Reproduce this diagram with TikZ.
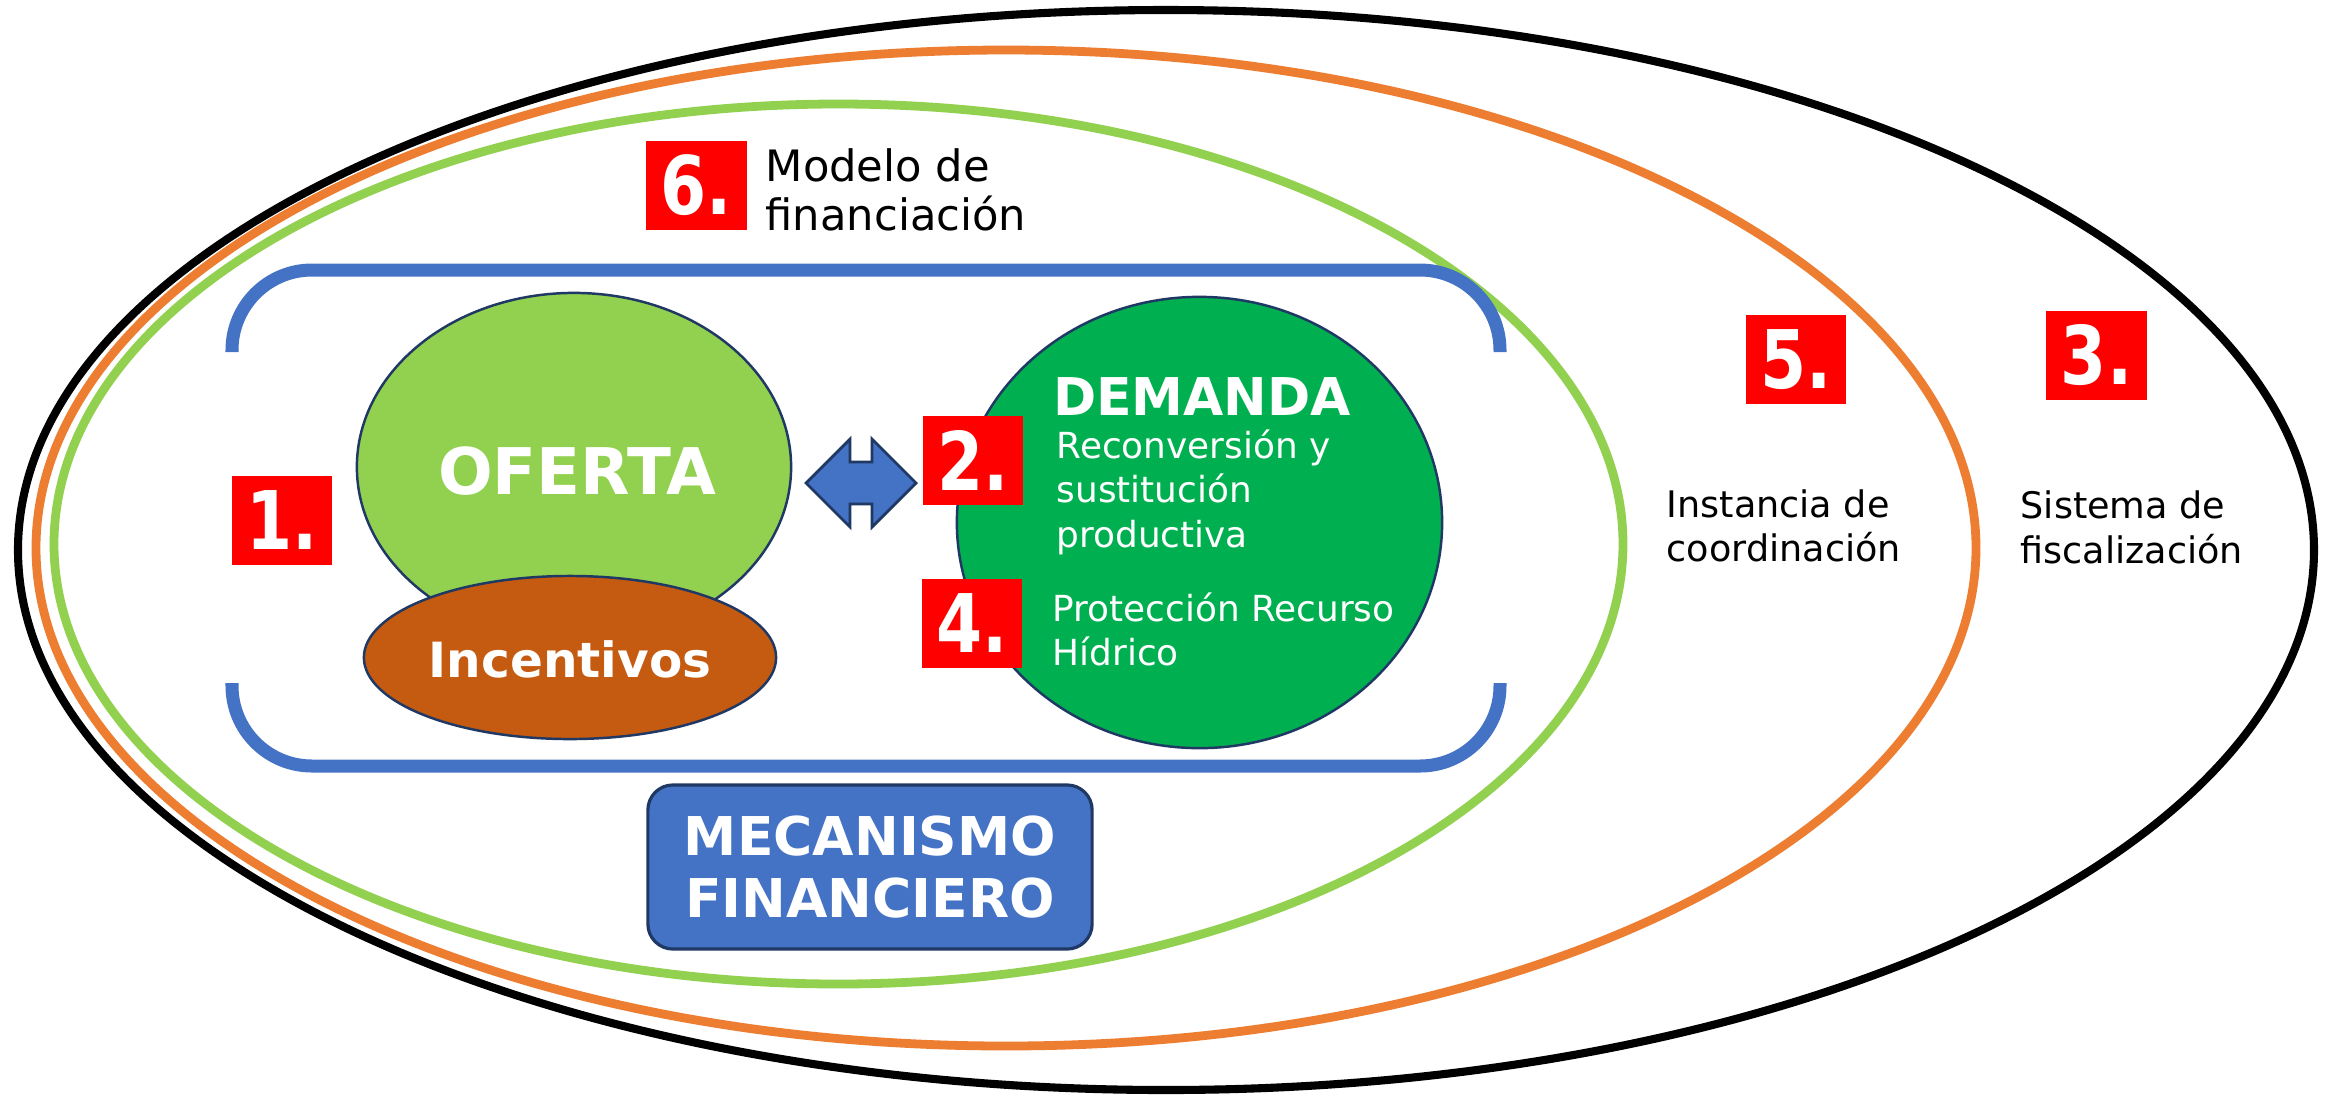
\documentclass[tikz,border=0pt]{standalone}
\usepackage{fontspec}
\usepackage{graphicx}
\setmainfont{DejaVu Sans}
\usetikzlibrary{shapes.geometric}
\definecolor{ofertaG}{HTML}{92D050}
\definecolor{incO}{HTML}{C55A11}
\definecolor{demG}{HTML}{00B050}
\definecolor{navy}{HTML}{1F3864}
\definecolor{bblue}{HTML}{4472C4}
\definecolor{lorange}{HTML}{ED7D31}
\definecolor{lgreen}{HTML}{92D050}
\definecolor{nred}{HTML}{FF0000}
\begin{document}
\begin{tikzpicture}[x=0.01cm,y=-0.01cm,
  numbox/.style={fill=nred, minimum width=1cm, minimum height=0.89cm, inner sep=0pt,
    text=white, font=\bfseries\fontsize{23}{26}\selectfont},
  shapeell/.style={ellipse, draw=navy, line width=0.7pt, inner sep=0pt},
  txt/.style={inner sep=0pt, anchor=base west},
  bodytxt/.style={txt, font=\fontsize{10.4}{12}\selectfont},
  whitetxt/.style={txt, text=white, font=\fontsize{10.2}{12}\selectfont},
  bigtxt/.style={inner sep=0pt, anchor=base, text=white},
  bracket/.style={draw=bblue, line width=3.7pt, rounded corners=0.8cm}
]
\useasboundingbox (0,0) rectangle (2335,1096);
\fill[white] (0,0) rectangle (2335,1096);

% outer ellipses
\draw[black, line width=2.3pt] (1166,550) ellipse [x radius=1148, y radius=540];
\draw[lorange, line width=2.5pt] (1006,548) ellipse [x radius=970, y radius=498];
\draw[lgreen, line width=2.5pt] (838.5,544) ellipse [x radius=784.5, y radius=440];

% blue brackets
\draw[bracket] (232,352) -- (232,270) -- (1500,270) -- (1500,352);
\draw[bracket] (232,683) -- (232,766) -- (1500,766) -- (1500,683);

% main shapes
\node[shapeell, fill=ofertaG, minimum width=4.34cm, minimum height=3.48cm] (oferta) at (574,467) {};
\node[shapeell, fill=incO, minimum width=4.12cm, minimum height=1.63cm] (incent) at (570,657.5) {};
\node[shapeell, fill=demG, minimum width=4.85cm, minimum height=4.51cm] (demanda) at (1199.5,522.5) {};

% double arrow
\draw[navy, fill=bblue, line width=0.8pt, line join=miter]
  (806,483) -- (850,439) -- (850,462) -- (872,462) -- (872,439) -- (916,483)
  -- (872,527) -- (872,504) -- (850,504) -- (850,527) -- cycle;

% labels in shapes
\node[bigtxt, font=\bfseries\fontsize{18.3}{22}\selectfont] (tOferta) at (577,494) {OFERTA};
\node[bigtxt, font=\bfseries\fontsize{13.8}{16}\selectfont] (tIncent) at (570,677) {Incentivos};
\node[bigtxt, font=\bfseries\fontsize{14.8}{18}\selectfont] (tDemanda) at (1202,415) {DEMANDA};

\node[whitetxt] (r1) at (1056,458) {Reconversión y};
\node[whitetxt] (r2) at (1056,502) {sustitución};
\node[whitetxt] (r3) at (1056,547) {productiva};
\node[whitetxt] (p1) at (1052,621) {Protección Recurso};
\node[whitetxt] (p2) at (1052,665) {Hídrico};

% number boxes
\node[numbox] (n1) at (282,520.5) {\scalebox{0.82}[1]{1.}};
\node[numbox] (n2) at (973,460.5) {\scalebox{0.82}[1]{2.}};
\node[numbox] (n4) at (972,623.5) {\scalebox{0.82}[1]{4.}};
\node[numbox] (n6) at (696.5,185.5) {\scalebox{0.82}[1]{6.}};
\node[numbox] (n5) at (1796,359.5) {\scalebox{0.82}[1]{5.}};
\node[numbox] (n3) at (2096.5,355.5) {\scalebox{0.82}[1]{3.}};

% outer labels
\node[txt, font=\fontsize{12.3}{15}\selectfont] (m1) at (765,181) {Modelo de};
\node[txt, font=\fontsize{12.3}{15}\selectfont] (m2) at (765,230) {financiación};
\node[bodytxt] (i1) at (1666,517) {Instancia de};
\node[bodytxt] (i2) at (1666,561) {coordinación};
\node[bodytxt] (s1) at (2020,518) {Sistema de};
\node[bodytxt] (s2) at (2020,563) {fiscalización};

% mecanismo financiero
\node[draw=navy, fill=bblue, line width=0.9pt, rounded corners=0.25cm,
  minimum width=4.44cm, minimum height=1.64cm, inner sep=0pt, align=center,
  text=white, font=\bfseries\fontsize{15.2}{17.9}\selectfont] (mec) at (870,867)
  {MECANISMO\\FINANCIERO};
\end{tikzpicture}
\end{document}
